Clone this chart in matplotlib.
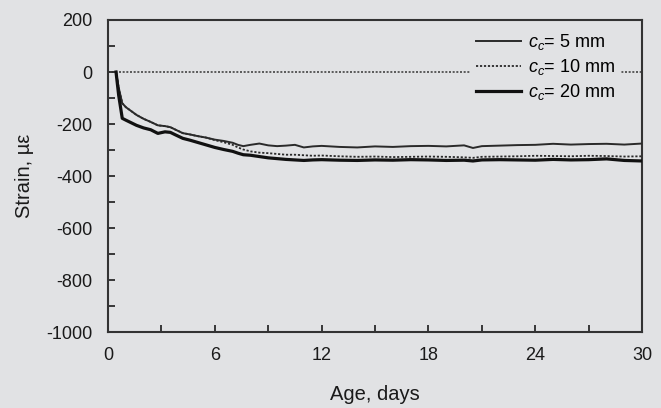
import numpy as np
from matplotlib import pyplot as plt
from matplotlib.ticker import MultipleLocator

plt.rcParams["font.family"] = ["Liberation Sans", "DejaVu Sans"]
plt.rcParams["mathtext.fontset"] = "custom"
plt.rcParams["mathtext.rm"] = "Liberation Sans"
plt.rcParams["mathtext.it"] = "Liberation Sans:italic"
plt.rcParams["axes.unicode_minus"] = False

bg = "#e1e2e4"
ink = "#2a2a2a"

# --- data ---
age = [0.45, 0.6, 0.8, 1.0, 1.3, 1.6, 2.0, 2.4, 2.8, 3.2, 3.5, 3.8, 4.2, 4.6,
       5.0, 5.5, 6.0, 6.5, 7.0, 7.3, 7.6, 8.0, 8.5, 9.0, 9.5, 10.0, 10.5, 11.0,
       11.5, 12.0, 13, 14, 15, 16, 17, 18, 19, 20, 20.5, 21, 22, 23, 24, 25,
       26, 27, 28, 29, 30]

strain_5 = [0, -60, -120, -135, -150, -165, -180, -192, -205, -208, -212, -222,
            -235, -240, -246, -252, -260, -265, -272, -280, -285, -280, -275,
            -282, -285, -283, -280, -290, -286, -284, -288, -290, -286, -288,
            -285, -284, -286, -282, -292, -285, -283, -281, -280, -276, -279,
            -277, -276, -279, -275]

strain_10 = [0, -60, -120, -135, -150, -165, -180, -192, -205, -208, -212, -222,
             -235, -240, -246, -252, -262, -270, -280, -290, -298, -305, -310,
             -312, -315, -318, -318, -320, -322, -321, -324, -326, -325, -327,
             -326, -325, -326, -328, -330, -326, -325, -324, -322, -323, -324,
             -322, -323, -325, -324]

strain_20 = [0, -90, -178, -185, -195, -205, -215, -222, -236, -230, -232, -242,
             -255, -262, -270, -280, -290, -298, -305, -312, -318, -320, -325,
             -330, -333, -336, -338, -340, -338, -337, -339, -340, -338, -339,
             -337, -338, -340, -339, -342, -338, -337, -338, -339, -336, -338,
             -337, -334, -340, -342]

labels = [r"$c_c$= 5 mm", r"$c_c$= 10 mm", r"$c_c$= 20 mm"]

fig = plt.figure(figsize=(6.61, 4.08), dpi=100, facecolor=bg)
ax = fig.add_axes([0.1634, 0.186, 0.808, 0.765], facecolor=bg)

ax.axhline(0, color="#444444", lw=1.2, ls=(0, (1.2, 1.0)), zorder=1)
ax.plot(age, strain_5, color=ink, lw=1.4, label=labels[0], zorder=3)
ax.plot(age, strain_10, color=ink, lw=1.3, ls=(0, (1.2, 1.0)), label=labels[1], zorder=2)
ax.plot(age, strain_20, color="#111111", lw=2.3, label=labels[2], zorder=3)

ax.set_xlim(0, 30)
ax.set_ylim(-1000, 200)
ax.xaxis.set_major_locator(MultipleLocator(6))
ax.xaxis.set_minor_locator(MultipleLocator(3))
ax.yaxis.set_major_locator(MultipleLocator(200))
ax.yaxis.set_minor_locator(MultipleLocator(100))
ax.tick_params(which="both", direction="in", length=5, width=1.3, color=ink,
               labelsize=13, labelcolor="#1a1a1a", pad=11)
for s in ax.spines.values():
    s.set_color("#333333")
    s.set_linewidth(1.5)

ax.set_xlabel("Age, days", fontsize=14.5, color="#1a1a1a", labelpad=15)
ax.set_ylabel("Strain, µε", fontsize=14.5, color="#1a1a1a", labelpad=9)

leg = ax.legend(loc="upper right", bbox_to_anchor=(0.975, 1.005), frameon=True,
                facecolor=bg, edgecolor=bg, framealpha=1, fontsize=13,
                handlelength=2.5, handletextpad=0.4, labelspacing=0.28,
                borderpad=0.25)
leg.set_zorder(5)

fig.savefig("out.png", dpi=100, facecolor=bg)
